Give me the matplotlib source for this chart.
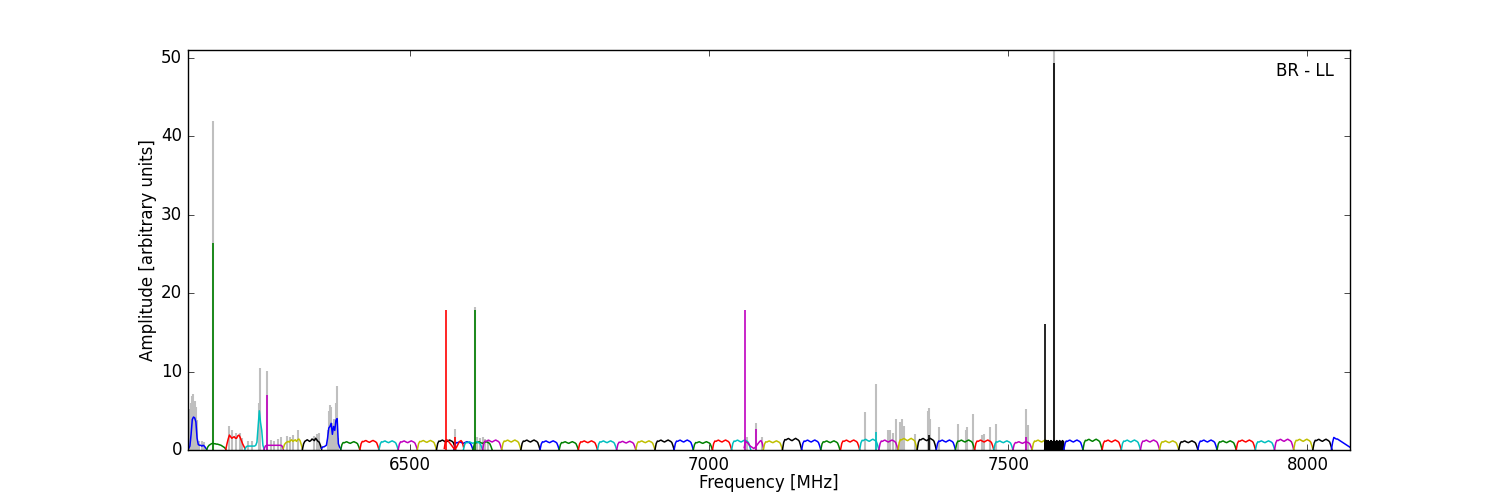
import numpy as np
import matplotlib
matplotlib.use("Agg")
import matplotlib.pyplot as plt

plt.style.use("classic")

# start frequency of every 32 MHz sub-band, in plotting order [MHz]
seg_start = [6129, 6161, 6193, 6225, 6257, 6289, 6321, 6353, 6385, 6417, 6449, 6481, 6513, 6545,
             6574, 6606, 6558, 6590, 6622,
             6654, 6686, 6718, 6750, 6782, 6814, 6846, 6878, 6910, 6942, 6974, 7006, 7038,
             7059, 7091, 7123, 7155, 7187, 7220, 7252, 7284, 7316, 7348, 7380, 7412, 7444, 7476, 7508, 7540,
             7561, 7593, 7625, 7657, 7689, 7721, 7753, 7785, 7817, 7849, 7881, 7913, 7945, 7977, 8009, 8040]
seg_width = 32

# mean level of each sub-band (scales the bandpass shape)
seg_level = [1.0, 1.0, 1.0, 1.0, 1.0, 1.0, 1.0, 1.0, 1.0, 1.15, 1.1, 1.1, 1.15, 1.2,
             1.0, 1.0, 1.0, 1.0, 1.2,
             1.2, 1.2, 1.1, 1.0, 1.1, 1.1, 1.05, 1.1, 1.2, 1.2, 1.0, 1.2, 1.2,
             1.0, 1.1, 1.4, 1.2, 1.1, 1.2, 1.3, 1.2, 1.4, 1.4, 1.2, 1.2, 1.2, 1.1, 1.0, 1.2,
             1.0, 1.2, 1.3, 1.2, 1.2, 1.2, 1.1, 1.1, 1.2, 1.1, 1.2, 1.1, 1.3, 1.3, 1.3, 1.0]

# typical bandpass shape of one sub-band (2 MHz steps)
bandpass = [0.05, 0.7, 0.95, 0.92, 1.0, 1.05, 0.97, 0.9, 0.85, 0.93, 1.0, 1.06, 0.98, 0.92, 0.8, 0.45, 0.0]

# sub-bands that look different from the template
seg0 = [0.1, 0.2, 0.5, 2.0, 3.9, 4.2, 4.1, 3.6, 1.5, 0.7, 0.6, 0.6, 0.5, 0.6, 0.5, 0.3, 0.05]
seg1 = [0.05, 0.4, 0.6, 0.7, 0.8, 0.85, 0.8, 0.8, 0.75, 0.75, 0.7, 0.65, 0.6, 0.5, 0.4, 0.3, 0.1]
seg2 = [0.1, 0.8, 1.4, 1.9, 1.7, 1.5, 1.6, 1.7, 1.5, 1.5, 1.8, 1.9, 1.6, 1.2, 0.8, 0.5, 0.2]
seg3 = [0.1, 0.4, 0.5, 0.5, 0.5, 0.5, 0.5, 0.5, 0.5, 0.6, 1.0, 3.0, 5.0, 3.5, 2.5, 0.6, 0.1]
seg4 = [0.1, 0.5, 0.6, 0.6, 0.6, 0.6, 0.6, 0.6, 0.6, 0.6, 0.6, 0.6, 0.6, 0.6, 0.6, 0.5, 0.1]
seg5 = [0.2, 0.7, 0.9, 1.0, 1.1, 1.0, 1.2, 1.3, 1.1, 1.2, 1.3, 1.1, 1.3, 1.4, 1.2, 0.7, 0.1]
seg6 = [0.1, 0.8, 1.1, 1.2, 1.3, 1.2, 1.1, 1.2, 1.4, 1.3, 1.2, 1.5, 1.3, 1.1, 1.0, 0.6, 0.1]
seg7 = [0.2, 0.4, 0.4, 0.5, 0.6, 1.5, 2.8, 3.0, 3.4, 2.0, 3.0, 2.5, 3.8, 4.0, 0.8, 0.4, 0.1]
seg16 = [0.2, 1.2, 1.3, 1.2, 1.0, 0.8, 0.6, 0.4, 0.2, 0.1, 0.3, 0.6, 0.9, 1.1, 1.2, 1.0, 0.4]
seg32 = [0.3, 1.1, 1.0, 0.9, 0.7, 0.5, 0.4, 0.3, 0.2, 0.3, 0.5, 0.7, 0.9, 1.1, 1.2, 0.9, 0.3]
seg48 = [0.1, 1.1, 0.0, 1.2, 0.1, 1.0, 0.0, 1.2, 0.2, 1.1, 0.0, 1.0, 0.1, 1.2, 0.0, 1.1,
         0.1, 1.0, 0.0, 1.2, 0.1, 1.1, 0.0, 1.0, 0.2, 1.2, 0.0, 1.1, 0.1, 1.0, 0.0, 1.2,
         0.1, 1.1, 0.0, 1.0, 0.1, 1.2, 0.0, 1.1, 0.1]
seg63 = [0.1, 1.0, 1.6, 1.5, 1.4, 1.4, 1.3, 1.2, 1.1, 1.0, 0.9, 0.8, 0.7, 0.6, 0.5, 0.4, 0.3]
special = {0: seg0, 1: seg1, 2: seg2, 3: seg3, 4: seg4, 5: seg5, 6: seg6, 7: seg7,
           16: seg16, 32: seg32, 48: seg48, 63: seg63}

# narrow lines left in the coloured spectra (sub-band index, freq, height)
spike_seg = [1, 4, 16, 16, 15, 32, 32, 38, 41, 46, 48, 48]
spike_freq = [6172, 6261, 6560, 6576, 6609, 7060, 7078, 7280, 7368, 7530, 7561, 7576]
spike_amp = [26.4, 7.0, 17.8, 1.7, 17.8, 17.8, 2.7, 2.3, 1.9, 1.6, 16.1, 49.3]

# raw spectrum (grey) where it sticks out above the coloured one
raw_freq = [6133, 6135, 6137, 6139, 6141, 6143, 6145, 6149, 6153, 6157,
            6172, 6199, 6203, 6210, 6216, 6220, 6230, 6236, 6248, 6250, 6262,
            6268, 6274, 6280, 6285, 6296, 6301, 6306, 6314, 6340, 6345, 6349,
            6363, 6365, 6367, 6369, 6371, 6373, 6375, 6377, 6379, 6381,
            6576, 6609, 6612, 6617, 6622, 6626, 6631, 7064, 7078, 7088,
            7260, 7280, 7300, 7303, 7307, 7312, 7320, 7323, 7326, 7345, 7366, 7368, 7370,
            7384, 7416, 7429, 7432, 7442, 7456, 7459, 7469, 7479, 7530, 7533, 7576]
raw_amp = [5.2, 6.0, 6.9, 7.1, 6.3, 5.5, 3.8, 1.2, 1.1, 1.0,
           41.9, 3.1, 2.6, 2.2, 2.2, 1.5, 1.1, 1.2, 6.0, 10.4, 10.1,
           1.3, 1.2, 1.4, 1.6, 1.8, 1.6, 1.9, 2.6, 1.8, 2.1, 2.2,
           2.5, 5.0, 5.8, 5.5, 3.5, 4.0, 3.5, 6.0, 8.2, 1.5,
           2.7, 18.2, 1.6, 1.5, 1.7, 1.4, 1.3, 1.6, 3.4, 1.7,
           4.8, 8.4, 2.5, 2.6, 2.2, 3.9, 3.6, 4.0, 3.0, 2.0, 5.0, 5.4, 4.0,
           2.9, 3.3, 2.6, 2.9, 4.6, 1.9, 2.0, 2.9, 3.3, 5.2, 3.2, 53.0]

colors = plt.rcParams["axes.prop_cycle"].by_key()["color"]

fig = plt.figure(figsize=(15, 5), dpi=100)
ax = fig.add_subplot(111)

ax.vlines(raw_freq, 0, raw_amp, color="0.75", lw=1.5)

for i, f0 in enumerate(seg_start):
    if i in special:
        vals = np.array(special[i])
    else:
        vals = np.array(bandpass) * seg_level[i]
    freq = np.linspace(f0, f0 + seg_width, len(vals))
    ax.plot(freq, vals, color=colors[i % len(colors)], lw=1.1)

for s, f, a in zip(spike_seg, spike_freq, spike_amp):
    ax.vlines(f, 0, a, color=colors[s % len(colors)], lw=1.2)

ax.set_xlim(6129, 8071)
ax.set_ylim(0, 51)
ax.set_xticks([6500, 7000, 7500, 8000])
ax.set_yticks([0, 10, 20, 30, 40, 50])
ax.set_xlabel("Frequency [MHz]", labelpad=0)
ax.set_ylabel("Amplitude [arbitrary units]", labelpad=3)
ax.text(0.986, 0.97, "BR - LL", transform=ax.transAxes, ha="right", va="top")

plt.savefig("out.png", dpi=100, facecolor="white")
